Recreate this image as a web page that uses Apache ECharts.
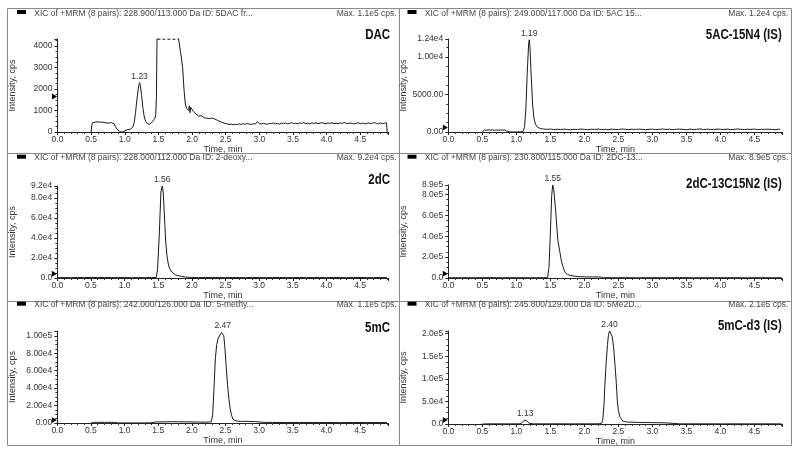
<!DOCTYPE html>
<html><head><meta charset="utf-8">
<script src="https://cdn.jsdelivr.net/npm/echarts@6/dist/echarts.min.js"></script>
<style>html,body{margin:0;padding:0;background:#fff}#c{width:800px;height:456px}</style>
</head><body><div id="c"></div><script>
// ---------------- DATA ----------------
const compoundNames = ['DAC', '5AC-15N4 (IS)', '2dC', '2dC-13C15N2 (IS)', '5mC', '5mC-d3 (IS)'];
const headerTexts = [
  'XIC of +MRM (8 pairs): 228.900/113.000 Da ID: 5DAC fr...',
  'XIC of +MRM (8 pairs): 249.000/117.000 Da ID: 5AC 15...',
  'XIC of +MRM (8 pairs): 228.000/112.000 Da ID: 2-deoxy...',
  'XIC of +MRM (8 pairs): 230.800/115.000 Da ID: 2DC-13...',
  'XIC of +MRM (8 pairs): 242.000/126.000 Da ID: 5-methy...',
  'XIC of +MRM (8 pairs): 245.800/129.000 Da ID: 5Me2D...'
];
const maxTexts = ['Max. 1.1e5 cps.', 'Max. 1.2e4 cps.', 'Max. 9.2e4 cps.', 'Max. 8.9e5 cps.', 'Max. 1.1e5 cps.', 'Max. 2.1e5 cps.'];
const xTickValues = [0, 0.5, 1, 1.5, 2, 2.5, 3, 3.5, 4, 4.5];
const xTickLabels = ['0.0', '0.5', '1.0', '1.5', '2.0', '2.5', '3.0', '3.5', '4.0', '4.5'];
const xAxisMax = [4.92, 4.91, 4.92, 4.91, 4.92, 4.91];
const yAxisMax = [4330, 12400, 92000, 890000, 105500, 206000];
const yInterval = [1000, 5000, 20000, 200000, 20000, 50000];
const yTickValues = [
  [0, 1000, 2000, 3000, 4000],
  [0, 5000, 10000, 12400],
  [0, 20000, 40000, 60000, 80000, 92000],
  [0, 200000, 400000, 600000, 800000, 890000],
  [0, 20000, 40000, 60000, 80000, 100000],
  [0, 50000, 100000, 150000, 200000]
];
const yTickLabels = [
  ['0', '1000', '2000', '3000', '4000'],
  ['0.00', '5000.00', '1.00e4', '1.24e4'],
  ['0.0', '2.0e4', '4.0e4', '6.0e4', '8.0e4', '9.2e4'],
  ['0.0', '2.0e5', '4.0e5', '6.0e5', '8.0e5', '8.9e5'],
  ['0.00', '2.00e4', '4.00e4', '6.00e4', '8.00e4', '1.00e5'],
  ['0.0', '5.0e4', '1.0e5', '1.5e5', '2.0e5']
];
// threshold marker level on each y axis
const thresholds = [1650, 600, 4300, 40000, 3400, 9000];
// saturated (off-scale) segment of the DAC trace
const dacSaturated = [[1.485, 4320], [1.797, 4320]];
// peak apex [time, intensity, label]
const peakLabels = [
  [[1.22, 2300, '1.23']],
  [[1.19, 12300, '1.19']],
  [[1.56, 92000, '1.56']],
  [[1.535, 890000, '1.55']],
  [[2.46, 105000, '2.47']],
  [[1.13, 9000, '1.13'], [2.37, 206000, '2.40']]
];

const dacTrace = [[0.50,0],[0.51,310],[0.52,430],[0.54,400],[0.56,460],[0.58,430],[0.60,470],[0.62,440],[0.64,460],[0.66,420],[0.68,450],[0.70,470],[0.72,430],[0.74,450],[0.76,410],[0.78,460],[0.80,440],[0.82,470],[0.84,380],[0.86,260],[0.88,150],[0.90,70],[0.92,30],[0.94,10],[0.96,-10],[0.98,10],[1.00,60],[1.02,90],[1.04,110],[1.06,120],[1.08,130],[1.10,160],[1.12,230],[1.14,450],[1.16,900],[1.18,1500],[1.20,2000],[1.21,2200],[1.22,2300],[1.23,2200],[1.25,1700],[1.27,1100],[1.29,700],[1.31,500],[1.33,400],[1.35,340],[1.37,360],[1.39,420],[1.41,480],[1.43,560],[1.45,650],[1.46,800],[1.47,1600],[1.48,4500],[1.50,20000],[1.55,70000],[1.60,110000],[1.65,90000],[1.70,50000],[1.75,20000],[1.79,6000],[1.80,4330],[1.83,3700],[1.86,3000],[1.88,2000],[1.90,1300],[1.92,1100],[1.94,1180],[1.95,1000],[1.96,1220],[1.97,900],[1.98,1150],[2.00,1080],[2.02,950],[2.04,870],[2.06,830],[2.08,780],[2.10,740],[2.12,700],[2.14,760],[2.16,690],[2.18,660],[2.20,680],[2.22,640],[2.24,700],[2.26,620],[2.28,610],[2.30,650],[2.32,700],[2.34,600],[2.36,560],[2.38,540],[2.40,500],[2.43,470],[2.46,430],[2.49,400],[2.52,380],[2.55,350],[2.58,370],[2.61,330],[2.64,360],[2.67,340],[2.70,380],[2.73,350],[2.76,390],[2.79,360],[2.82,400],[2.85,370],[2.88,350],[2.91,390],[2.94,370],[2.97,480],[3.00,400],[3.03,370],[3.06,410],[3.09,380],[3.12,360],[3.15,400],[3.18,390],[3.21,420],[3.24,380],[3.27,400],[3.30,370],[3.33,410],[3.36,390],[3.39,420],[3.42,380],[3.45,400],[3.48,430],[3.51,390],[3.54,410],[3.57,380],[3.60,420],[3.63,400],[3.66,440],[3.69,390],[3.72,410],[3.75,380],[3.78,420],[3.81,400],[3.84,430],[3.87,390],[3.90,410],[3.93,440],[3.96,400],[3.99,380],[4.02,420],[4.05,400],[4.08,430],[4.11,390],[4.14,410],[4.17,380],[4.20,420],[4.23,400],[4.26,440],[4.29,410],[4.32,390],[4.35,420],[4.38,400],[4.41,380],[4.44,410],[4.47,430],[4.50,390],[4.53,410],[4.56,380],[4.59,400],[4.62,420],[4.65,390],[4.68,410],[4.71,440],[4.74,400],[4.77,380],[4.80,420],[4.83,390],[4.86,410],[4.89,430],[4.90,0]];

const ac5Trace = [[0.50,0],[0.51,220],[0.53,270],[0.56,240],[0.59,290],[0.62,250],[0.65,280],[0.68,240],[0.71,270],[0.74,230],[0.77,260],[0.80,250],[0.83,270],[0.85,210],[0.87,80],[0.89,20],[0.92,0],[0.96,10],[1.00,0],[1.04,20],[1.07,30],[1.10,100],[1.12,600],[1.14,3000],[1.16,7800],[1.18,11600],[1.19,12300],[1.20,11400],[1.22,7200],[1.24,3600],[1.26,1800],[1.28,1100],[1.30,750],[1.33,560],[1.36,450],[1.40,400],[1.45,350],[1.50,390],[1.55,330],[1.60,370],[1.65,320],[1.70,380],[1.75,340],[1.80,300],[1.85,360],[1.90,330],[1.95,390],[2.00,350],[2.05,310],[2.10,370],[2.15,340],[2.20,390],[2.25,320],[2.30,360],[2.35,300],[2.40,380],[2.45,350],[2.50,330],[2.55,400],[2.60,360],[2.65,320],[2.70,370],[2.75,340],[2.80,390],[2.85,350],[2.90,310],[2.95,360],[3.00,380],[3.05,330],[3.10,350],[3.15,400],[3.20,340],[3.25,370],[3.30,320],[3.35,360],[3.40,390],[3.45,350],[3.50,300],[3.55,380],[3.60,340],[3.65,360],[3.70,410],[3.75,330],[3.80,370],[3.85,350],[3.90,320],[3.95,390],[4.00,360],[4.05,340],[4.10,380],[4.15,310],[4.20,350],[4.25,400],[4.30,360],[4.35,330],[4.40,370],[4.45,340],[4.50,390],[4.55,320],[4.60,360],[4.65,350],[4.70,380],[4.75,340],[4.80,310],[4.85,370],[4.88,350]];

const dcTrace = [[0.00,300],[0.10,450],[0.20,350],[0.30,500],[0.40,400],[0.50,600],[0.60,450],[0.70,550],[0.80,400],[0.90,350],[1.00,450],[1.10,300],[1.20,400],[1.30,350],[1.40,450],[1.47,500],[1.49,8000],[1.515,42000],[1.54,86000],[1.56,92000],[1.575,85000],[1.59,65000],[1.61,38000],[1.63,22000],[1.65,14000],[1.67,9300],[1.70,6000],[1.72,4300],[1.76,3000],[1.82,2000],[1.90,1000],[2.00,500],[2.10,400],[2.20,550],[2.30,350],[2.40,450],[2.50,300],[2.60,500],[2.70,400],[2.80,350],[2.90,550],[3.00,400],[3.10,300],[3.20,450],[3.30,500],[3.40,350],[3.50,400],[3.60,550],[3.70,300],[3.80,450],[3.90,400],[4.00,350],[4.10,500],[4.20,400],[4.30,300],[4.40,450],[4.50,550],[4.60,350],[4.70,400],[4.80,500],[4.90,350]];

const dcISTrace = [[0.00,2000],[0.20,3000],[0.40,2500],[0.60,3500],[0.80,2500],[1.00,3000],[1.20,2000],[1.40,3000],[1.46,5000],[1.48,100000],[1.50,420000],[1.52,790000],[1.535,890000],[1.55,850000],[1.58,630000],[1.61,360000],[1.64,250000],[1.66,170000],[1.68,120000],[1.70,80000],[1.72,50000],[1.75,35000],[1.79,25000],[1.85,18000],[1.92,13000],[2.00,11000],[2.10,10000],[2.20,10000],[2.25,8000],[2.28,3000],[2.40,2500],[2.60,3000],[2.80,2000],[3.00,3000],[3.20,2500],[3.40,3500],[3.60,2000],[3.80,3000],[4.00,2500],[4.20,3000],[4.40,2000],[4.60,3000],[4.80,2500],[4.90,3000]];

const mcTrace = [[0.50,0],[0.51,700],[0.55,800],[0.60,700],[0.65,850],[0.70,750],[0.75,800],[0.80,700],[0.85,750],[0.87,200],[0.90,100],[1.00,50],[1.10,100],[1.20,50],[1.30,100],[1.38,150],[1.40,900],[1.45,1100],[1.50,1200],[1.60,1300],[1.70,1500],[1.80,1400],[1.90,1300],[2.00,1200],[2.10,1100],[2.20,1000],[2.25,1100],[2.29,1500],[2.31,10000],[2.33,41000],[2.35,75000],[2.37,90000],[2.39,97000],[2.42,101000],[2.44,104000],[2.46,105000],[2.475,100000],[2.49,87000],[2.51,65000],[2.53,44000],[2.55,28000],[2.57,16000],[2.59,9000],[2.61,4600],[2.64,2800],[2.69,2000],[2.75,1900],[2.85,1800],[2.95,1600],[3.00,1200],[3.05,800],[3.20,600],[3.40,500],[3.60,650],[3.80,500],[4.00,550],[4.20,450],[4.40,600],[4.60,500],[4.80,550],[4.90,450]];

const mcISTrace = [[0.50,0],[0.51,300],[0.60,400],[0.70,300],[0.80,350],[0.90,300],[1.00,400],[1.05,500],[1.08,2500],[1.10,6000],[1.12,8700],[1.13,9000],[1.15,7500],[1.17,4000],[1.19,1500],[1.21,600],[1.25,400],[1.40,300],[1.60,400],[1.80,300],[2.00,350],[2.20,400],[2.25,1000],[2.27,8000],[2.29,45000],[2.30,81000],[2.32,135000],[2.34,176000],[2.355,198000],[2.37,206000],[2.39,200000],[2.41,193000],[2.43,170000],[2.45,132000],[2.47,90000],[2.485,51000],[2.50,30000],[2.525,15000],[2.57,6000],[2.62,4500],[2.70,4000],[2.80,3500],[2.90,3200],[3.00,3000],[3.10,2800],[3.20,2500],[3.22,600],[3.40,400],[3.60,300],[3.80,400],[4.00,300],[4.20,350],[4.40,300],[4.60,400],[4.80,300],[4.90,350]];

const traces = [dacTrace, ac5Trace, dcTrace, dcISTrace, mcTrace, mcISTrace];

// ---------------- LAYOUT ----------------
const FONT = '"Liberation Sans", Arial, Helvetica, sans-serif';
const grids = [
  {left: 57.5, top: 39, width: 331, height: 93},
  {left: 448.3, top: 39, width: 334, height: 93},
  {left: 57.3, top: 186, width: 331, height: 92},
  {left: 448.3, top: 185, width: 334, height: 93},
  {left: 57.3, top: 331, width: 331, height: 92},
  {left: 448.3, top: 331, width: 334, height: 93}
];
const headerY = [13.3, 158, 305];
const nameY = [35, 35, 180.3, 183.7, 328, 325.7];

const chart = echarts.init(document.getElementById('c'), null, {renderer: 'canvas'});

const xAxes = [], yAxes = [], series = [], graphics = [];
const textColor = '#333';

grids.forEach((g, i) => {
  xAxes.push({
    type: 'value', gridIndex: i, min: 0, max: xAxisMax[i], interval: 0.5,
    axisLine: {show: true, onZero: false, lineStyle: {color: '#222', width: 1}},
    axisTick: {show: true, length: 3, lineStyle: {color: '#222'}},
    minorTick: {show: true, splitNumber: 5, length: 2, lineStyle: {color: '#333'}},
    splitLine: {show: false}, minorSplitLine: {show: false},
    axisLabel: {
      show: true, margin: 3, fontSize: 8.5, color: textColor, fontFamily: FONT,
      showMinLabel: true, showMaxLabel: true,
      formatter: v => { const k = xTickValues.findIndex(t => Math.abs(t - v) < 1e-6); return k >= 0 ? xTickLabels[k] : ''; }
    },
    name: 'Time, min', nameLocation: 'middle', nameGap: 11,
    nameTextStyle: {fontSize: 9, color: textColor, fontFamily: FONT}
  });
  yAxes.push({
    type: 'value', gridIndex: i, min: 0, max: yAxisMax[i], interval: yInterval[i],
    axisLine: {show: true, lineStyle: {color: '#222', width: 1}},
    axisTick: {show: true, length: 3, lineStyle: {color: '#222'}},
    minorTick: {show: true, splitNumber: 4, length: 2, lineStyle: {color: '#333'}},
    splitLine: {show: false}, minorSplitLine: {show: false},
    axisLabel: {
      show: true, margin: 5, fontSize: 8.5, color: textColor, fontFamily: FONT,
      showMinLabel: true, showMaxLabel: true,
      formatter: v => { const k = yTickValues[i].findIndex(t => Math.abs(t - v) < 1e-6 * yAxisMax[i]); return k >= 0 ? yTickLabels[i][k] : ''; }
    },
    name: 'Intensity, cps', nameLocation: 'middle', nameGap: 40, nameRotate: 90,
    nameTextStyle: {fontSize: 9, color: textColor, fontFamily: FONT}
  });
  const mp = peakLabels[i].map(p => ({
    coord: [p[0], p[1]], symbol: 'circle', symbolSize: 1,
    itemStyle: {color: 'rgba(0,0,0,0)'},
    label: {show: true, position: 'top', distance: 1, formatter: p[2], fontSize: 8.5, color: textColor, fontFamily: FONT}
  }));
  mp.push({
    coord: [0, thresholds[i]], symbol: 'triangle', symbolRotate: -90, symbolSize: [6, 5], symbolOffset: [-3, 0],
    itemStyle: {color: '#000'}, label: {show: false}
  });
  series.push({
    type: 'line', xAxisIndex: i, yAxisIndex: i, data: traces[i], showSymbol: false, symbol: 'none',
    clip: true, animation: false, silent: true,
    lineStyle: {color: '#1a1a1a', width: 1},
    markPoint: {animation: false, silent: true, data: mp}
  });
});
series.push({
  type: 'line', xAxisIndex: 0, yAxisIndex: 0, data: dacSaturated, showSymbol: false, symbol: 'none',
  clip: false, animation: false, silent: true,
  lineStyle: {color: '#1a1a1a', width: 1, type: [3, 2]}
});

// frame lines
const border = {stroke: '#8a8a8a', lineWidth: 1};
[[7.5, 8.5, 791.5, 8.5], [7.5, 153.5, 791.5, 153.5], [7.5, 301.5, 791.5, 301.5], [7.5, 445.5, 791.5, 445.5],
 [7.5, 8.5, 7.5, 445.5], [399.5, 8.5, 399.5, 445.5], [791.5, 8.5, 791.5, 445.5]].forEach(l => {
  graphics.push({type: 'line', shape: {x1: l[0], y1: l[1], x2: l[2], y2: l[3]}, style: border, silent: true});
});
grids.forEach((g, i) => {
  const col = i % 2, row = Math.floor(i / 2);
  const ox = col === 0 ? 0 : 390.5;
  const hy = headerY[row];
  graphics.push({type: 'rect', shape: {x: 17 + ox, y: hy - 3.3, width: 9, height: 4}, style: {fill: '#000'}, silent: true});
  graphics.push({type: 'text', x: 34.3 + ox, y: hy, silent: true,
    style: {text: headerTexts[i], font: '8.5px ' + FONT, fill: '#444', align: 'left', verticalAlign: 'middle', textAlign: 'left', textVerticalAlign: 'middle'}});
  graphics.push({type: 'text', x: (col === 0 ? 396.7 : 788.3), y: hy, silent: true,
    style: {text: maxTexts[i], font: '8.5px ' + FONT, fill: '#444', align: 'right', verticalAlign: 'middle', textAlign: 'right', textVerticalAlign: 'middle'}});
  graphics.push({type: 'text', x: (col === 0 ? 390 : 781.7), y: nameY[i], scaleX: 0.82, silent: true,
    style: {text: compoundNames[i], font: 'bold 14px ' + FONT, fill: '#111', align: 'right', verticalAlign: 'middle', textAlign: 'right', textVerticalAlign: 'middle'}});
});

chart.setOption({
  animation: false,
  backgroundColor: '#fff',
  grid: grids.map(g => Object.assign({outerBoundsMode: 'none', containLabel: false}, g)),
  xAxis: xAxes,
  yAxis: yAxes,
  series: series,
  graphic: {elements: graphics}
});
</script></body></html>
